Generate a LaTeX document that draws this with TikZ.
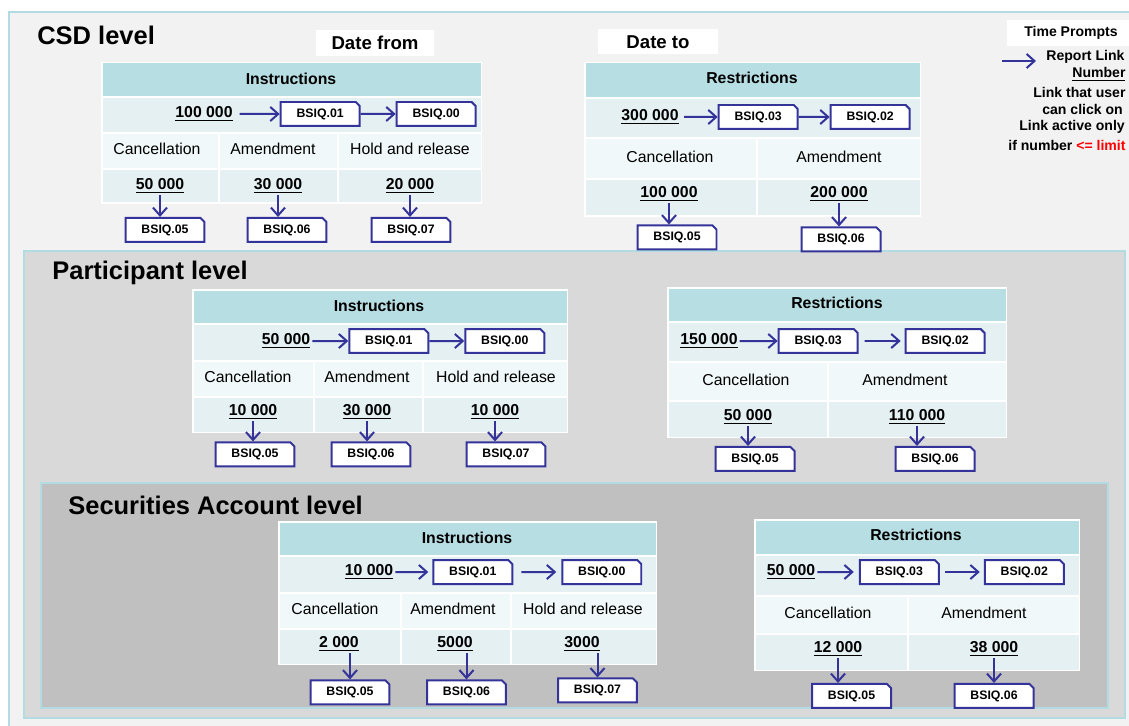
\documentclass[tikz,border=0pt]{standalone}
\usepackage{fontspec}
\setmainfont{Liberation Sans}
\usetikzlibrary{arrows.meta,calc,positioning,shapes.misc}

\definecolor{tblhead}{HTML}{B7DEE2}
\definecolor{tblrowa}{HTML}{E4F0F2}
\definecolor{tblrowb}{HTML}{F1F8F9}
\definecolor{lvlline}{HTML}{B2DCE1}
\definecolor{csdfill}{HTML}{F2F2F2}
\definecolor{partfill}{HTML}{D9D9D9}
\definecolor{secfill}{HTML}{C0C0C0}
\definecolor{linkblue}{HTML}{333399}

\begin{document}
\begin{tikzpicture}
[x=0.02cm, y=-0.02cm, >={Straight Barb[length=4.5pt,width=8pt]}, font=\fontsize{9}{11}\selectfont]
\tikzstyle{lvl}=[draw=lvlline, line width=0.05cm]
\tikzstyle{ttl}=[anchor=west, inner sep=0pt, font=\fontsize{14.5}{17}\selectfont\bfseries]
\tikzstyle{date}=[fill=white, inner sep=0pt, font=\fontsize{10.6}{12}\selectfont\bfseries]
\tikzstyle{hdr}=[font=\fontsize{9}{11}\selectfont\bfseries]
\tikzstyle{num}=[font=\fontsize{9}{11}\selectfont\bfseries, inner sep=1pt]
\tikzstyle{bsiq}=[chamfered rectangle, chamfered rectangle corners=north east, chamfered rectangle xsep=0.04cm, chamfered rectangle ysep=0.04cm, draw=linkblue, line width=0.04cm, fill=white, minimum width=1.58cm, minimum height=0.48cm, inner sep=0pt, font=\fontsize{7}{8}\selectfont\bfseries]
\tikzstyle{link}=[->, draw=linkblue, line width=0.04cm]
\tikzstyle{leg}=[anchor=west, inner sep=0pt, font=\fontsize{8}{9.5}\selectfont\bfseries]

\useasboundingbox (0,0) rectangle (1129,726);
\clip (0,0) rectangle (1129,726);
\fill[white] (0,0) rectangle (1129,726);

% level frames
\filldraw[lvl, fill=csdfill] (9,12) rectangle (1160,760);
\filldraw[lvl, fill=partfill] (24,251) rectangle (1125,718);
\filldraw[lvl, fill=secfill] (41,483) rectangle (1108,708);

\node[ttl] (csd_t) at (37,35) {CSD level};
\node[ttl] (part_t) at (52,273) {Participant level};
\node[ttl] (sec_t) at (68,505) {Securities Account level};

\node[date, minimum width=2.36cm, minimum height=0.52cm] (date_from) at (375,43) {Date from};
\node[date, minimum width=2.42cm, minimum height=0.5cm] (date_to) at (658,42) {Date to};

% legend
\node[fill=white, inner sep=0pt, minimum width=2.56cm, minimum height=0.52cm, font=\fontsize{8}{9}\selectfont\bfseries] (time_p) at (1071,33) {Time Prompts};
\node[leg] (leg_1) at (1046,57) {Report Link};
\node[leg] (leg_2) at (1072,74) {\underline{Number}};
\node[leg] (leg_3) at (1033,92) {Link that user};
\node[leg] (leg_4) at (1042,109) {can click on};
\node[leg] (leg_5) at (1019,127) {Link active only};
\node[leg] (leg_6) at (1008,145) {if number \textcolor{red}{<= limit}};
\coordinate (leg_a) at (1002,61);
\draw[link, shorten >=0.2cm] (leg_a) -- (leg_a -| leg_1.west);

% CSD - instructions
\fill[white] (101,62) rectangle (482,204);
\fill[tblhead] (102.5,63.5) rectangle (480.5,96);
\fill[tblrowa] (102.5,98) rectangle (480.5,132);
\fill[tblrowb] (102.5,134) rectangle (480.5,168);
\fill[tblrowa] (102.5,170) rectangle (480.5,202.5);
\draw[white, line width=0.04cm] (219,133) -- (219,204) (338,133) -- (338,204);

\node[hdr] (ci_hdr) at (291,79) {Instructions};
\node[num] (ci_n0) at (204,114) {\underline{100 000}};
\node[bsiq] (ci_b01) [right=0.9cm of ci_n0] {BSIQ.01};
\node[bsiq] (ci_b00) [right=0.7cm of ci_b01] {BSIQ.00};
\node (ci_l1) at (157,149) {Cancellation};
\node (ci_l2) at (273,149) {Amendment};
\node (ci_l3) at (410,149) {Hold and release};
\node[num] (ci_n1) at (160,186) {\underline{50 000}};
\node[num] (ci_n2) at (278,186) {\underline{30 000}};
\node[num] (ci_n3) at (410,186) {\underline{20 000}};
\node[bsiq] (ci_b05) [below=0.43cm of ci_n1, xshift=0.1cm] {BSIQ.05};
\node[bsiq] (ci_b06) [below=0.43cm of ci_n2, xshift=0.18cm] {BSIQ.06};
\node[bsiq] (ci_b07) [below=0.43cm of ci_n3, xshift=0.02cm] {BSIQ.07};

\path[link]
	(ci_n0) edge[shorten <=0.1cm] (ci_b01)
	(ci_b01) edge (ci_b00)
	;
\draw[link] (ci_n1.south) -- (ci_n1.south |- ci_b05.north);
\draw[link] (ci_n2.south) -- (ci_n2.south |- ci_b06.north);
\draw[link] (ci_n3.south) -- (ci_n3.south |- ci_b07.north);

% CSD - restrictions
\fill[white] (584,62) rectangle (921,217);
\fill[tblhead] (585.5,63.5) rectangle (919.5,97);
\fill[tblrowa] (585.5,99) rectangle (919.5,137);
\fill[tblrowb] (585.5,139) rectangle (919.5,178);
\fill[tblrowa] (585.5,180) rectangle (919.5,215.5);
\draw[white, line width=0.04cm] (757,138) -- (757,217);

\node[hdr] (cr_hdr) at (752,78) {Restrictions};
\node[num] (cr_n0) at (650,117) {\underline{300 000}};
\node[bsiq] (cr_b03) [right=0.74cm of cr_n0] {BSIQ.03};
\node[bsiq] (cr_b02) [right=0.62cm of cr_b03] {BSIQ.02};
\node (cr_l1) at (670,157) {Cancellation};
\node (cr_l2) at (839,157) {Amendment};
\node[num] (cr_n1) at (669,194) {\underline{100 000}};
\node[num] (cr_n2) at (839,194) {\underline{200 000}};
\node[bsiq] (cr_b05) [below=0.42cm of cr_n1, xshift=0.16cm] {BSIQ.05};
\node[bsiq] (cr_b06) [below=0.46cm of cr_n2, xshift=0.04cm] {BSIQ.06};

\path[link]
	(cr_n0) edge[shorten <=0.07cm] (cr_b03)
	(cr_b03) edge (cr_b02)
	;
\draw[link] (cr_n1.south) -- (cr_n1.south |- cr_b05.north);
\draw[link] (cr_n2.south) -- (cr_n2.south |- cr_b06.north);

% Participant - instructions
\fill[white] (192,289) rectangle (568,433);
\fill[tblhead] (193.5,290.5) rectangle (566.5,323);
\fill[tblrowa] (193.5,325) rectangle (566.5,360);
\fill[tblrowb] (193.5,362) rectangle (566.5,396);
\fill[tblrowa] (193.5,398) rectangle (566.5,431.5);
\draw[white, line width=0.04cm] (314,361) -- (314,433) (423,361) -- (423,433);

\node[hdr] (pi_hdr) at (379,306) {Instructions};
\node[num] (pi_n0) at (286,341) {\underline{50 000}};
\node[bsiq] (pi_b01) [right=0.72cm of pi_n0] {BSIQ.01};
\node[bsiq] (pi_b00) [right=0.7cm of pi_b01] {BSIQ.00};
\node (pi_l1) at (248,377) {Cancellation};
\node (pi_l2) at (367,377) {Amendment};
\node (pi_l3) at (496,377) {Hold and release};
\node[num] (pi_n1) at (253,412) {\underline{10 000}};
\node[num] (pi_n2) at (367,412) {\underline{30 000}};
\node[num] (pi_n3) at (495,412) {\underline{10 000}};
\node[bsiq] (pi_b05) [below=0.4cm of pi_n1, xshift=0.04cm] {BSIQ.05};
\node[bsiq] (pi_b06) [below=0.4cm of pi_n2, xshift=0.08cm] {BSIQ.06};
\node[bsiq] (pi_b07) [below=0.4cm of pi_n3, xshift=0.22cm] {BSIQ.07};

\path[link]
	(pi_n0) edge (pi_b01)
	(pi_b01) edge (pi_b00)
	;
\draw[link] (pi_n1.south) -- (pi_n1.south |- pi_b05.north);
\draw[link] (pi_n2.south) -- (pi_n2.south |- pi_b06.north);
\draw[link] (pi_n3.south) -- (pi_n3.south |- pi_b07.north);

% Participant - restrictions
\fill[white] (667,287) rectangle (1007,438);
\fill[tblhead] (668.5,288.5) rectangle (1005.5,321);
\fill[tblrowa] (668.5,323) rectangle (1005.5,361);
\fill[tblrowb] (668.5,363) rectangle (1005.5,400);
\fill[tblrowa] (668.5,402) rectangle (1005.5,436.5);
\draw[white, line width=0.04cm] (828,362) -- (828,438);

\node[hdr] (pr_hdr) at (837,303) {Restrictions};
\node[num] (pr_n0) at (709,341) {\underline{150 000}};
\node[bsiq] (pr_b03) [right=0.76cm of pr_n0] {BSIQ.03};
\node[bsiq] (pr_b02) [right=0.92cm of pr_b03] {BSIQ.02};
\node (pr_l1) at (746,380) {Cancellation};
\node (pr_l2) at (905,380) {Amendment};
\node[num] (pr_n1) at (748,417) {\underline{50 000}};
\node[num] (pr_n2) at (917,417) {\underline{110 000}};
\node[bsiq] (pr_b05) [below=0.39cm of pr_n1, xshift=0.14cm] {BSIQ.05};
\node[bsiq] (pr_b06) [below=0.39cm of pr_n2, xshift=0.36cm] {BSIQ.06};

\path[link]
	(pr_n0) edge (pr_b03)
	(pr_b03) edge[shorten <=0.12cm, shorten >=0.08cm] (pr_b02)
	;
\draw[link] (pr_n1.south) -- (pr_n1.south |- pr_b05.north);
\draw[link] (pr_n2.south) -- (pr_n2.south |- pr_b06.north);

% Securities account - instructions
\fill[white] (278,521) rectangle (657,665);
\fill[tblhead] (279.5,522.5) rectangle (655.5,555);
\fill[tblrowa] (279.5,557) rectangle (655.5,592);
\fill[tblrowb] (279.5,594) rectangle (655.5,628);
\fill[tblrowa] (279.5,630) rectangle (655.5,663.5);
\draw[white, line width=0.04cm] (401,593) -- (401,665) (511,593) -- (511,665);

\node[hdr] (si_hdr) at (467,538) {Instructions};
\node[num] (si_n0) at (369,572) {\underline{10 000}};
\node[bsiq] (si_b01) [right=0.74cm of si_n0] {BSIQ.01};
\node[bsiq] (si_b00) [right=0.96cm of si_b01] {BSIQ.00};
\node (si_l1) at (335,609) {Cancellation};
\node (si_l2) at (453,609) {Amendment};
\node (si_l3) at (583,609) {Hold and release};
\node[num] (si_n1) at (339,644) {\underline{2 000}};
\node[num] (si_n2) at (455,644) {\underline{5000}};
\node[num] (si_n3) at (582,644) {\underline{3000}};
\node[bsiq] (si_b05) [below=0.52cm of si_n1, xshift=0.22cm] {BSIQ.05};
\node[bsiq] (si_b06) [below=0.52cm of si_n2, xshift=0.23cm] {BSIQ.06};
\node[bsiq] (si_b07) [below=0.48cm of si_n3, xshift=0.31cm] {BSIQ.07};

\path[link]
	(si_n0) edge[shorten >=0.08cm] (si_b01)
	(si_b01) edge[shorten <=0.16cm, shorten >=0.1cm] (si_b00)
	;
\draw[link] (si_b05.north |- si_n1.south) -- (si_b05.north);
\draw[link] (si_b06.north |- si_n2.south) -- (si_b06.north);
\draw[link] (si_b07.north |- si_n3.south) -- (si_b07.north);

% Securities account - restrictions
\fill[white] (754,519) rectangle (1080,671);
\fill[tblhead] (755.5,520.5) rectangle (1078.5,554);
\fill[tblrowa] (755.5,556) rectangle (1078.5,595);
\fill[tblrowb] (755.5,597) rectangle (1078.5,633);
\fill[tblrowa] (755.5,635) rectangle (1078.5,669.5);
\draw[white, line width=0.04cm] (908,596) -- (908,671);

\node[hdr] (sr_hdr) at (916,535) {Restrictions};
\node[num] (sr_n0) at (791,572) {\underline{50 000}};
\node[bsiq] (sr_b03) [right=0.83cm of sr_n0] {BSIQ.03};
\node[bsiq] (sr_b02) [right=0.88cm of sr_b03] {BSIQ.02};
\node (sr_l1) at (828,613) {Cancellation};
\node (sr_l2) at (984,613) {Amendment};
\node[num] (sr_n1) at (838,649) {\underline{12 000}};
\node[num] (sr_n2) at (994,649) {\underline{38 000}};
\node[bsiq] (sr_b05) [below=0.49cm of sr_n1, xshift=0.27cm] {BSIQ.05};
\node[bsiq] (sr_b06) [below=0.49cm of sr_n2] {BSIQ.06};

\path[link]
	(sr_n0) edge[shorten >=0.1cm] (sr_b03)
	(sr_b03) edge[shorten <=0.1cm, shorten >=0.08cm] (sr_b02)
	;
\draw[link] (sr_n1.south) -- (sr_n1.south |- sr_b05.north);
\draw[link] (sr_n2.south) -- (sr_n2.south |- sr_b06.north);
\end{tikzpicture}
\end{document}
